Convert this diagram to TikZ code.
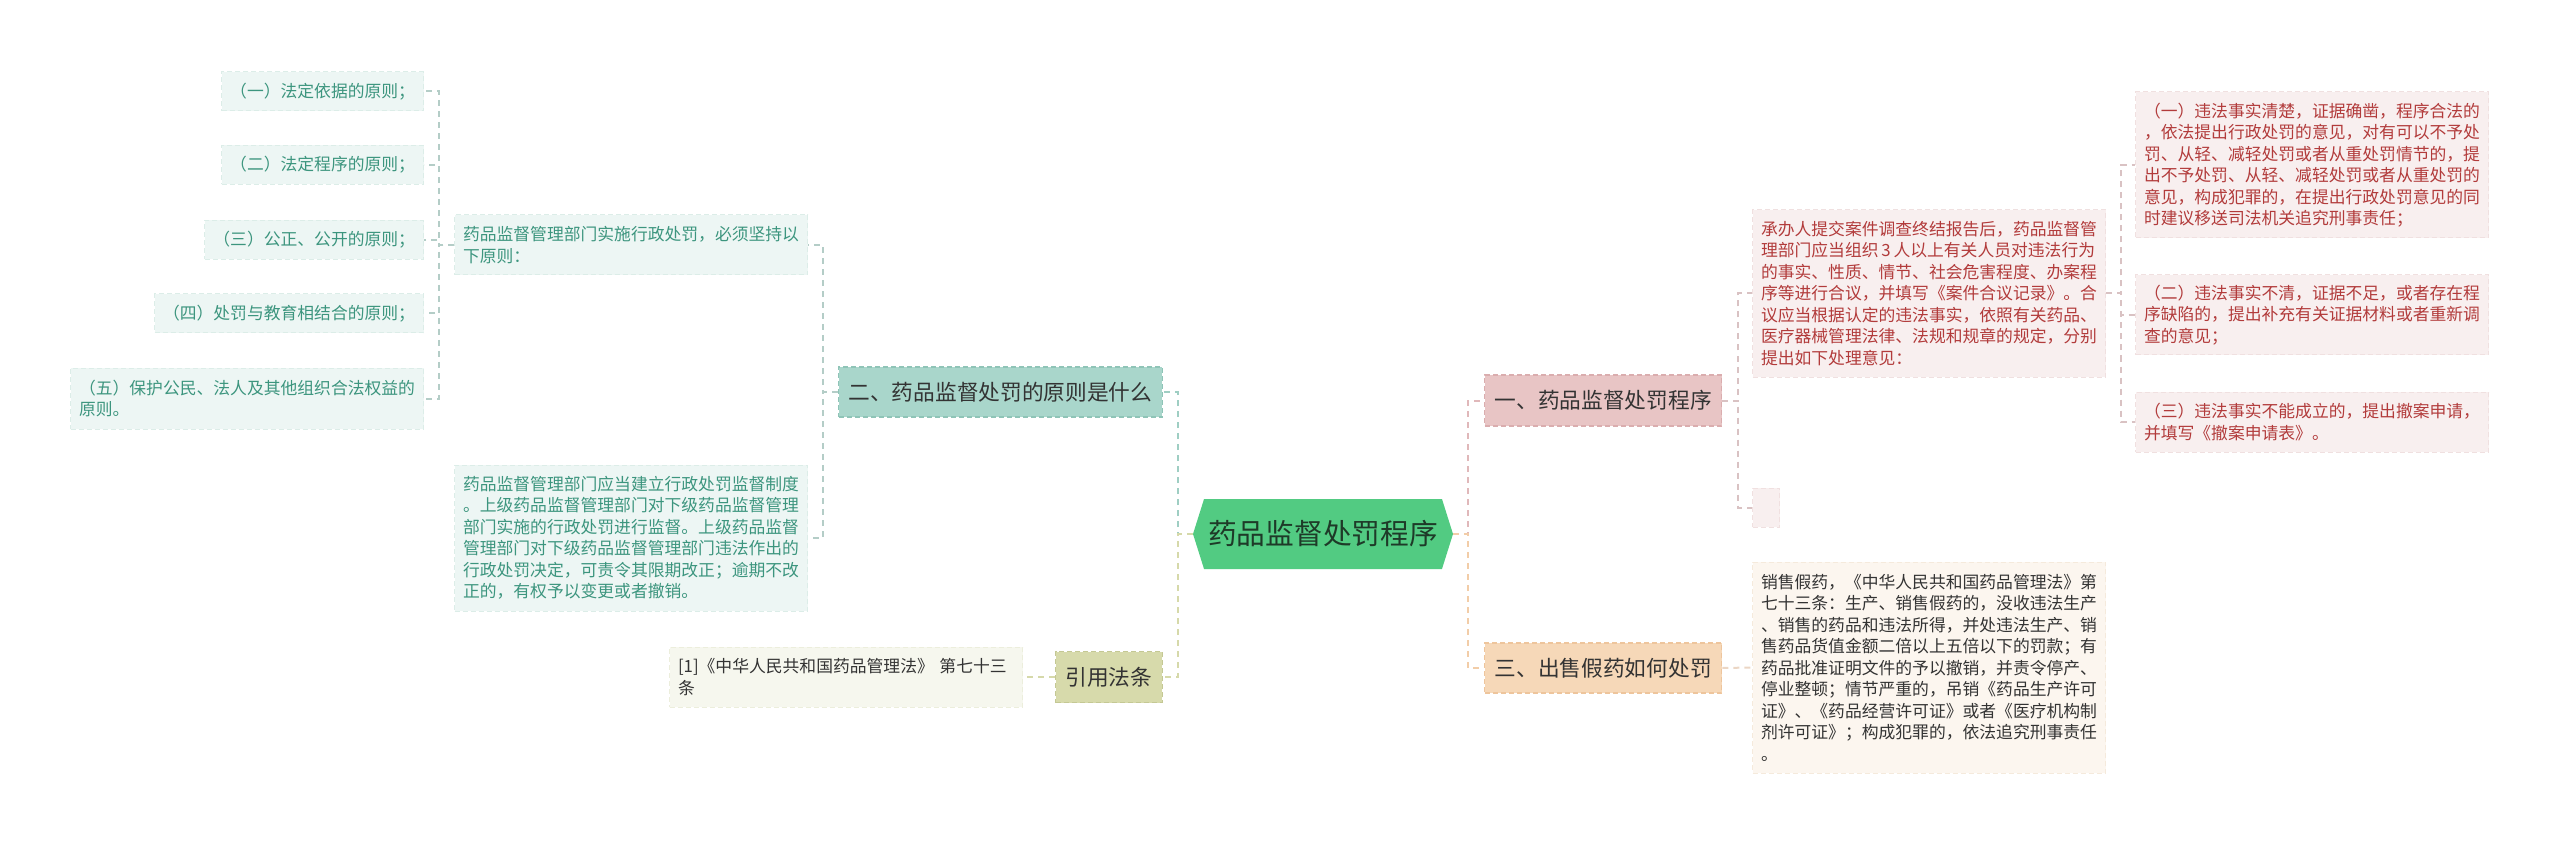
\documentclass[tikz,border=0pt]{standalone}
\usepackage{fontspec}
\setmainfont{Noto Sans CJK SC}
\usetikzlibrary{shapes.symbols}

\definecolor{rootgreen}{HTML}{52CB82}
\definecolor{roottext}{HTML}{1E3A28}
\definecolor{tealfill}{HTML}{A9D6CB}
\definecolor{tealdraw}{HTML}{8FC4B7}
\definecolor{khakifill}{HTML}{D7DAAB}
\definecolor{khakidraw}{HTML}{C4C894}
\definecolor{pinkfill}{HTML}{E8C5C5}
\definecolor{pinkdraw}{HTML}{DAADAE}
\definecolor{peachfill}{HTML}{F6D8B8}
\definecolor{peachdraw}{HTML}{EEC59C}
\definecolor{mintfill}{HTML}{EDF6F4}
\definecolor{mintdraw}{HTML}{DCEDE8}
\definecolor{tealtext}{HTML}{3C957E}
\definecolor{creamfill}{HTML}{F6F7EE}
\definecolor{creamdraw}{HTML}{ECEEDC}
\definecolor{rosefill}{HTML}{F8EFEF}
\definecolor{rosedraw}{HTML}{F0E0E0}
\definecolor{redtext}{HTML}{B23B3B}
\definecolor{sandfill}{HTML}{FCF6EF}
\definecolor{sanddraw}{HTML}{F5EADC}
\definecolor{greytext}{HTML}{333333}
\definecolor{linkteal}{HTML}{9FCEC3}
\definecolor{linkkhaki}{HTML}{D6D9AA}
\definecolor{linkpink}{HTML}{E0B8BA}
\definecolor{linkpeach}{HTML}{F2CDA8}
\definecolor{linkgreyteal}{HTML}{B4CDC7}
\definecolor{linkgreypink}{HTML}{D9C2C3}
\definecolor{linkgreypeach}{HTML}{EBD6C4}

\tikzset{ %x and y are pixels of the 2560x845 page
  {link/.style} ={draw, line width=1pt, dash pattern=on 3pt off 2.5pt},
  {topic/.style} ={rectangle, draw, line width=0.7pt, dash pattern=on 2.5pt off 1.5pt,
                  inner xsep=5pt, inner ysep=0pt, text=greytext,
                  font=\fontsize{10.85pt}{13pt}\selectfont},
  {leafbox/.style} ={rectangle, draw, line width=0.5pt, dash pattern=on 2.5pt off 1.5pt,
                  inner xsep=4.25pt, inner ysep=0pt,
                  font=\fontsize{8.4pt}{10.75pt}\selectfont},
  {para/.style} ={leafbox, text width=168pt, align=left},
  {principle/.style} ={leafbox, fill=mintfill, draw=mintdraw, text=tealtext,
                  minimum height=19.5pt, anchor=east},
  {tealpara/.style} ={para, fill=mintfill, draw=mintdraw, text=tealtext, anchor=east},
  {redpara/.style} ={para, fill=rosefill, draw=rosedraw, text=redtext, anchor=west},
}

\begin{document}
\begin{tikzpicture}[x=0.5pt, y=-0.5pt]
\useasboundingbox (0,0) rectangle (2560,845);

% centre
\node[shape=signal, signal to=west and east, signal pointer angle=145,
      fill=rootgreen, text=roottext, minimum width=130pt, minimum height=35pt,
      inner sep=0pt, font=\fontsize{14.35pt}{17pt}\selectfont]
      (root) at (1323,534) {药品监督处罚程序};

% first level
\node[topic, fill=tealfill, draw=tealdraw, minimum height=25pt, anchor=east]
      (b2) at (1163,392) {二、药品监督处罚的原则是什么};
\node[topic, fill=khakifill, draw=khakidraw, minimum height=25.5pt, anchor=east]
      (cite) at (1163,677) {引用法条};
\node[topic, fill=pinkfill, draw=pinkdraw, minimum height=25.5pt, anchor=west]
      (b1) at (1484,400.5) {一、药品监督处罚程序};
\node[topic, fill=peachfill, draw=peachdraw, minimum height=25pt, anchor=west]
      (b3) at (1484,668) {三、出售假药如何处罚};

% left side
\node[tealpara, minimum height=30pt] (p0) at (808,245)
      {药品监督管理部门实施行政处罚，必须坚持以\\下原则：};
\node[tealpara, minimum height=73pt] (sup) at (808,538)
      {药品监督管理部门应当建立行政处罚监督制度\\
       。上级药品监督管理部门对下级药品监督管理\\
       部门实施的行政处罚进行监督。上级药品监督\\
       管理部门对下级药品监督管理部门违法作出的\\
       行政处罚决定，可责令其限期改正；逾期不改\\
       正的，有权予以变更或者撤销。};
\node[para, fill=creamfill, draw=creamdraw, text=greytext, minimum height=30pt,
      anchor=east] (law) at (1023,677)
      {[1]《中华人民共和国药品管理法》 第七十三\\条};

\node[principle] (r1) at (424,91.5) {（一）法定依据的原则；};
\node[principle] (r2) at (424,165) {（二）法定程序的原则；};
\node[principle] (r3) at (424,240) {（三）公正、公开的原则；};
\node[principle] (r4) at (424,313.5) {（四）处罚与教育相结合的原则；};
\node[tealpara, minimum height=30.5pt] (r5) at (424,398.5)
      {（五）保护公民、法人及其他组织合法权益的\\原则。};

% right side
\node[redpara, minimum height=83.5pt] (proc) at (1752,293.5)
      {承办人提交案件调查终结报告后，药品监督管\\
       理部门应当组织\,3\,人以上有关人员对违法行为\\
       的事实、性质、情节、社会危害程度、办案程\\
       序等进行合议，并填写《案件合议记录》。合\\
       议应当根据认定的违法事实，依照有关药品、\\
       医疗器械管理法律、法规和规章的规定，分别\\
       提出如下处理意见：};
\node[leafbox, fill=rosefill, draw=rosedraw, minimum width=13.5pt,
      minimum height=19.5pt, anchor=west] (blank) at (1752,507.5) {};
\node[para, fill=sandfill, draw=sanddraw, text=greytext, minimum height=105.5pt,
      anchor=west] (fine) at (1752,667.5)
      {销售假药，《中华人民共和国药品管理法》第\\
       七十三条：生产、销售假药的，没收违法生产\\
       、销售的药品和违法所得，并处违法生产、销\\
       售药品货值金额二倍以上五倍以下的罚款；有\\
       药品批准证明文件的予以撤销，并责令停产、\\
       停业整顿；情节严重的，吊销《药品生产许可\\
       证》、《药品经营许可证》或者《医疗机构制\\
       剂许可证》；构成犯罪的，依法追究刑事责任\\
       。};

\node[redpara, minimum height=73pt] (o1) at (2135,165)
      {（一）违法事实清楚，证据确凿，程序合法的\\
       ，依法提出行政处罚的意见，对有可以不予处\\
       罚、从轻、减轻处罚或者从重处罚情节的，提\\
       出不予处罚、从轻、减轻处罚或者从重处罚的\\
       意见，构成犯罪的，在提出行政处罚意见的同\\
       时建议移送司法机关追究刑事责任；};
\node[redpara, minimum height=40pt] (o2) at (2135,315)
      {（二）违法事实不清，证据不足，或者存在程\\
       序缺陷的，提出补充有关证据材料或者重新调\\
       查的意见；};
\node[redpara, minimum height=30pt] (o3) at (2135,422)
      {（三）违法事实不能成立的，提出撤案申请，\\
       并填写《撤案申请表》。};

% connectors
\draw[link, draw=linkteal] (root.west) -- ++(-15,0) |- (b2.east);
\draw[link, draw=linkkhaki] (root.west) -- ++(-15,0) |- (cite.east);
\draw[link, draw=linkpink] (root.east) -- ++(15,0) |- (b1.west);
\draw[link, draw=linkpeach] (root.east) -- ++(15,0) |- (b3.west);
\foreach \n in {p0,sup}
  \draw[link, draw=linkgreyteal] (b2.west) -- ++(-15,0) |- (\n.east);
\foreach \n in {r1,r2,r3,r4,r5}
  \draw[link, draw=linkgreyteal] (p0.west) -- ++(-15,0) |- (\n.east);
\draw[link, draw=linkkhaki] (cite.west) -- (law.east);
\foreach \n in {proc,blank}
  \draw[link, draw=linkgreypink] (b1.east) -- ++(16,0) |- (\n.west);
\foreach \n in {o1,o2,o3}
  \draw[link, draw=linkgreypink] (proc.east) -- ++(15,0) |- (\n.west);
\draw[link, draw=linkgreypeach] (b3.east) -- (fine.west);
\end{tikzpicture}
\end{document}
